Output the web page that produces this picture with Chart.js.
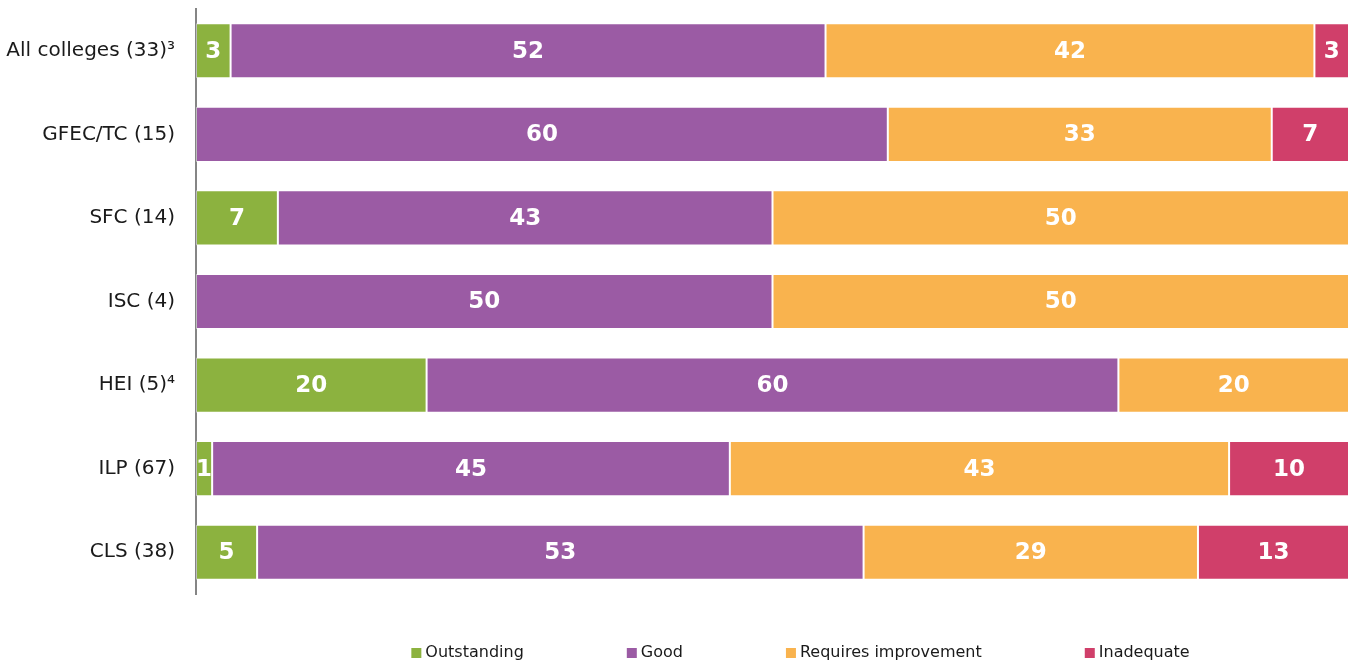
<!DOCTYPE html>
<html>
<head>
<meta charset="utf-8">
<script src="https://cdn.jsdelivr.net/npm/chart.js@4/dist/chart.umd.min.js"></script>
<style>
  body { margin: 0; background: #fff; }
  #wrap { width: 1355px; height: 663px; }
</style>
</head>
<body>
<div id="wrap"><canvas id="gradeChart"></canvas></div>
<script>
// categories and shares (%)
var categories = ["All colleges (33)³", "GFEC/TC (15)", "SFC (14)", "ISC (4)", "HEI (5)⁴", "ILP (67)", "CLS (38)"];
var outstanding = [3.0, 0, 7.1, 0, 20, 1.4, 5.3];
var good = [51.6, 60.0, 42.9, 50, 60, 44.9, 52.6];
var requiresImprovement = [42.4, 33.3, 50.0, 50, 20, 43.3, 29.0];
var inadequate = [3.0, 6.7, 0, 0, 0, 10.4, 13.1];

var seriesNames = ["Outstanding", "Good", "Requires improvement", "Inadequate"];
var seriesColors = ["#8cb23f", "#9b5ba4", "#f9b34e", "#d03f6a"];

// white numbers in the middle of each segment
var segmentLabels = {
    id: "segmentLabels",
    afterDatasetsDraw: function (chart) {
        var ctx = chart.ctx;
        ctx.save();
        ctx.fillStyle = "#ffffff";
        ctx.font = "bold 23px 'DejaVu Sans'";
        ctx.textAlign = "center";
        ctx.textBaseline = "middle";
        chart.data.datasets.forEach(function (ds, i) {
            var meta = chart.getDatasetMeta(i);
            meta.data.forEach(function (bar, j) {
                var v = ds.data[j];
                if (!v) return;
                ctx.fillText(Math.round(v), (bar.x + bar.base) / 2, bar.y + 1);
            });
        });
        ctx.restore();
    }
};

// legend under the plot, small squares with wide gaps
var bottomLegend = {
    id: "bottomLegend",
    afterDraw: function (chart) {
        var ctx = chart.ctx;
        var area = chart.chartArea;
        ctx.save();
        ctx.font = "16px 'DejaVu Sans'";
        ctx.textBaseline = "middle";
        ctx.textAlign = "left";
        var box = 10, gap = 4, spacing = 103;
        var widths = seriesNames.map(function (n) { return ctx.measureText(n).width; });
        var total = widths.reduce(function (a, b) { return a + b; }, 0) + seriesNames.length * (box + gap) + (seriesNames.length - 1) * spacing;
        var x = (area.left + area.right) / 2 + 28 - total / 2;
        var y = chart.height - 10;
        seriesNames.forEach(function (n, i) {
            ctx.fillStyle = seriesColors[i];
            ctx.fillRect(x, y - 5, box, box);
            ctx.fillStyle = "#1a1a1a";
            ctx.fillText(n, x + box + gap, y);
            x += box + gap + widths[i] + spacing;
        });
        ctx.restore();
    }
};

document.addEventListener("DOMContentLoaded", function () {
    var ctx = document.getElementById("gradeChart").getContext("2d");
    var allData = [outstanding, good, requiresImprovement, inadequate];

    new Chart(ctx, {
        type: "bar",
        data: {
            labels: categories,
            datasets: seriesNames.map(function (name, i) {
                return {
                    label: name,
                    data: allData[i],
                    backgroundColor: seriesColors[i],
                    borderColor: "rgba(255,255,255,0.45)",
                    borderWidth: 1,
                    borderSkipped: false,
                    categoryPercentage: 1.0,
                    barPercentage: 0.66
                };
            })
        },
        options: {
            indexAxis: "y",
            responsive: true,
            maintainAspectRatio: false,
            animation: false,
            layout: { padding: { top: 9, right: 6, bottom: 69, left: 0 } },
            plugins: {
                legend: { display: false },
                tooltip: { enabled: false }
            },
            scales: {
                x: {
                    stacked: true,
                    min: 0,
                    max: 100,
                    display: false
                },
                y: {
                    stacked: true,
                    grid: { display: false },
                    border: { display: true, color: "#858585", width: 2 },
                    ticks: {
                        color: "#1a1a1a",
                        padding: 13,
                        font: { family: "'DejaVu Sans'", size: 20 }
                    },
                    afterFit: function (scale) {
                        scale.width = 196;
                        scale.paddingTop = 0;
                        scale.paddingBottom = 0;
                    }
                }
            }
        },
        plugins: [segmentLabels, bottomLegend]
    });
});
</script>
</body>
</html>
